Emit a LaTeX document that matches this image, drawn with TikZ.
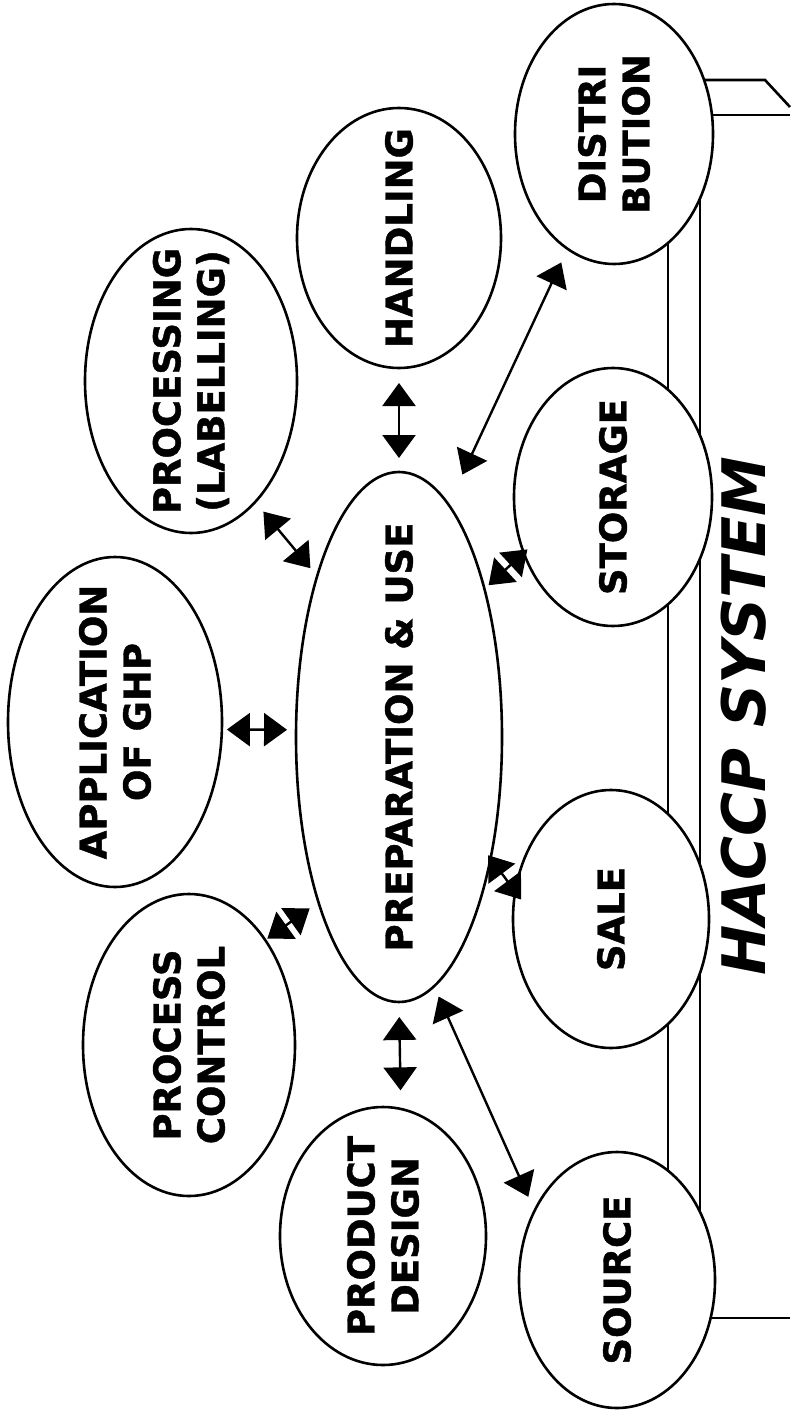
\documentclass[tikz,border=0pt]{standalone}
\usepackage{fontspec}
\setmainfont{DejaVu Sans}[BoldFeatures={FakeBold=1.2}]
\usetikzlibrary{shapes.geometric,arrows.meta}
\begin{document}
\begin{tikzpicture}[x=1pt,y=-1pt,
  ell/.style={ellipse,draw=black,line width=2.6pt,fill=white,inner sep=0pt,outer sep=0pt},
  lbl/.style={rotate=90,align=center,font=\bfseries\fontsize{37}{44}\selectfont,inner sep=0pt},
  dbl/.style={line width=2.4pt,{Triangle[length=23pt,width=33pt]}-{Triangle[length=23pt,width=33pt]}},
  frame/.style={line width=2.6pt,line join=miter}]
\useasboundingbox[fill=white] (0,0) rectangle (790,1412);
% background frame (table-like shape behind the right-hand ellipses)
\draw[frame] (668,134) -- (668,1280);
\draw[frame] (700,134) -- (700,1280);
\draw[frame] (640,80) -- (765,80) -- (790,107);
\draw[frame] (640,115) -- (790,115);
\draw[frame] (617,1318) -- (790,1318);
% ellipses
\node[ell,minimum width=206pt,minimum height=530pt] (prep) at (399,737) {};
\node[ell,minimum width=212pt,minimum height=304pt] (proc) at (191,381) {};
\node[ell,minimum width=204pt,minimum height=260pt] (hand) at (399,238) {};
\node[ell,minimum width=198pt,minimum height=260pt] (dist) at (614,134) {};
\node[ell,minimum width=198pt,minimum height=258pt] (stor) at (613,497) {};
\node[ell,minimum width=196pt,minimum height=258pt] (sale) at (611,919) {};
\node[ell,minimum width=214pt,minimum height=330pt] (app) at (115,722) {};
\node[ell,minimum width=212pt,minimum height=302pt] (pc) at (189,1045) {};
\node[ell,minimum width=206pt,minimum height=258pt] (design) at (383,1236) {};
\node[ell,minimum width=196pt,minimum height=256pt] (src) at (617,1280) {};
% labels
\node[lbl] (prep-t) at (prep) {PREPARATION \& USE};
\node[lbl] (proc-t) at (proc) {PROCESSING\\(LABELLING)};
\node[lbl] (hand-t) at (hand) {HANDLING};
\node[lbl] (dist-t) at (dist) {DISTRI\\BUTION};
\node[lbl] (stor-t) at (stor) {STORAGE};
\node[lbl] (sale-t) at (sale) {SALE};
\node[lbl] (app-t) at (app) {APPLICATION\\OF GHP};
\node[lbl] (pc-t) at (pc) {PROCESS\\CONTROL};
\node[lbl] (design-t) at (design) {PRODUCT\\DESIGN};
\node[lbl] (src-t) at (src) {SOURCE};
\node[rotate=90,inner sep=0pt,font=\bfseries\itshape\fontsize{60}{70}\selectfont] (title) at (744,716) {HACCP SYSTEM};
% connectors
\draw[dbl,shorten <=14pt,shorten >=15pt] (prep.north) -- (hand.south);
\draw[dbl,shorten <=33pt,shorten >=15pt] (prep.78.5) -- (dist.248.5);
\draw[dbl,shorten <=10.5pt,shorten >=12.7pt] (prep.117.4) -- (proc.-62.1);
\draw[dbl,shorten <=9pt,shorten >=5pt] (prep.176.1) -- (app.-4.3);
\draw[dbl,shorten <=10.8pt,shorten >=2.6pt] (prep.244.4) -- (pc.54.3);
\draw[dbl,shorten <=15pt,shorten >=18.6pt] (prep.south) -- (design.82.9);
\draw[dbl,shorten <=11.3pt,shorten >=15.3pt] (prep.-82.7) -- (src.140);
\draw[dbl,shorten <=5.6pt,shorten >=-5pt] (prep.60.8) -- (stor.212.3);
\draw[dbl,shorten <=-4pt,shorten >=-10pt] (prep.-53.2) -- (sale.164.1);
\end{tikzpicture}
\end{document}
